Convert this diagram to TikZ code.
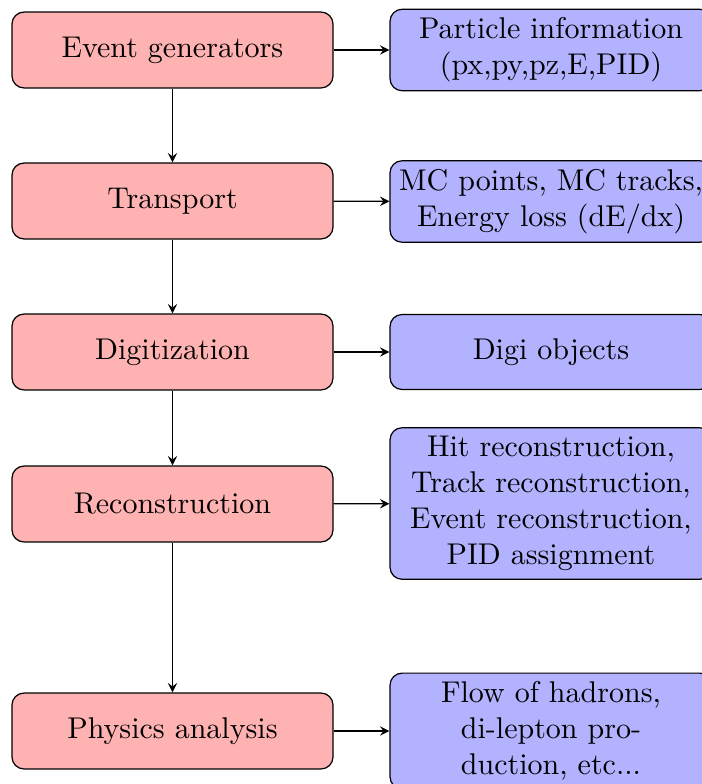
\documentclass[tikz,border=0pt]{standalone}
\usepackage{amsmath}
\usepackage{tikz}

\begin{document}
\begin{tikzpicture}[x=0.3333pt, y=-0.3333pt, >=stealth,
	stage/.style={draw, fill=red!30, rounded corners=4pt, minimum width=107pt, minimum height=25.3pt, align=center},
	output/.style={draw, fill=blue!30, rounded corners=4pt, minimum width=107.3pt, minimum height=25pt, align=center, inner sep=2.8pt}]
	\useasboundingbox (0,0) rectangle (702,784);
	\node[stage] (gen)  at (172.5,50)  {Event generators};
	\node[stage] (tran) at (172.5,201) {Transport};
	\node[stage] (digi) at (172.5,352) {Digitization};
	\node[stage] (reco) at (172.5,504) {Reconstruction};
	\node[stage] (phys) at (172.5,731) {Physics analysis};
	\node[output] (genout)  at (551,50)    {Particle information\\(px,py,pz,E,PID)};
	\node[output] (tranout) at (551,201.5) {MC points, MC tracks,\\Energy loss (dE/dx)};
	\node[output] (digiout) at (551,352)   {Digi objects};
	\node[output] (recoout) at (551,503.5) {Hit reconstruction,\\Track reconstruction,\\Event reconstruction,\\PID assignment};
	\node[output] (physout) at (551,731)   {Flow of hadrons,\\di-lepton pro-\\duction, etc...};
	\draw[->] (gen) -- (tran);
	\draw[->] (tran) -- (digi);
	\draw[->] (digi) -- (reco);
	\draw[->] (reco) -- (phys);
	\draw[->] (gen) -- (genout);
	\draw[->] (tran) -- (tranout);
	\draw[->] (digi) -- (digiout);
	\draw[->] (reco) -- (recoout);
	\draw[->] (phys) -- (physout);
\end{tikzpicture}
\end{document}
